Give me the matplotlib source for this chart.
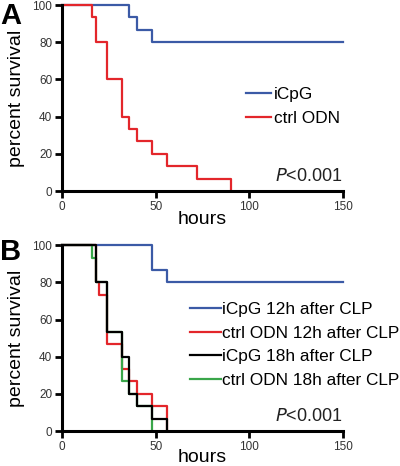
import matplotlib
matplotlib.use("Agg")
import matplotlib.pyplot as plt

plt.rcParams['font.family'] = ['Liberation Sans', 'DejaVu Sans']

# Panel A data (hours, percent survival)
a_icpg_t = [0, 36, 40, 48, 150]
a_icpg_s = [100, 93.3, 86.7, 80, 80]
a_ctrl_t = [0, 16, 18, 24, 32, 36, 40, 48, 56, 72, 90]
a_ctrl_s = [100, 93.3, 80, 60, 40, 33.3, 26.7, 20, 13.3, 6.7, 0]

# Panel B data
b_icpg12_t = [0, 48, 56, 150]
b_icpg12_s = [100, 86.7, 80, 80]
b_ctrl12_t = [0, 18, 20, 24, 32, 36, 40, 48, 56]
b_ctrl12_s = [100, 80, 73.3, 46.7, 33.3, 26.7, 20, 13.3, 0]
b_icpg18_t = [0, 18, 24, 32, 36, 40, 48, 56]
b_icpg18_s = [100, 80, 53.3, 40, 20, 13.3, 6.7, 0]
b_ctrl18_t = [0, 16, 18, 24, 32, 36, 40, 48]
b_ctrl18_s = [100, 93.3, 80, 53.3, 26.7, 20, 13.3, 0]

labels_a = ["iCpG", "ctrl ODN"]
labels_b = ["iCpG 12h after CLP", "ctrl ODN 12h after CLP",
            "iCpG 18h after CLP", "ctrl ODN 18h after CLP"]
x_ticks = [0, 50, 100, 150]
y_ticks = [0, 20, 40, 60, 80, 100]

BLUE = '#3b5aa6'
RED = '#e3262b'
GREEN = '#3aa64a'
BLACK = '#000000'

fig = plt.figure(figsize=(4.0, 4.66), dpi=100)
axA = fig.add_axes([0.155, 0.5901, 0.7025, 0.3991])
axB = fig.add_axes([0.155, 0.0751, 0.7025, 0.3985])

LW = 1.6

def style(ax, xlabelpad):
    ax.set_xlim(0, 150)
    ax.set_ylim(0, 100)
    ax.set_xticks(x_ticks)
    ax.set_yticks(y_ticks)
    for s in ['top', 'right']:
        ax.spines[s].set_visible(False)
    for s in ['left', 'bottom']:
        ax.spines[s].set_linewidth(2.2)
        ax.spines[s].set_zorder(5)
    ax.tick_params(direction='out', length=5, width=2, labelsize=8.5,
                   labelcolor='#333333', pad=2)
    ax.set_xlabel('hours', fontsize=14, labelpad=xlabelpad)
    ax.set_ylabel('percent survival', fontsize=14, labelpad=5)
    ax.text(1.0, 0.03, r'$\it{P}$<0.001', transform=ax.transAxes,
            ha='right', va='bottom', fontsize=13, color='#222222')

# Panel A
axA.step(a_icpg_t, a_icpg_s, where='post', color=BLUE, lw=LW, label=labels_a[0], clip_on=False)
axA.step(a_ctrl_t, a_ctrl_s, where='post', color=RED, lw=LW, label=labels_a[1], clip_on=False)
style(axA, -1)
axA.legend(loc='upper left', bbox_to_anchor=(0.655, 0.56), frameon=False,
           fontsize=12.4, handlelength=1.45, handletextpad=0.15,
           labelspacing=0.55, borderpad=0, borderaxespad=0)

# Panel B
axB.step(b_icpg12_t, b_icpg12_s, where='post', color=BLUE, lw=LW, label=labels_b[0], clip_on=False, zorder=2)
axB.step(b_ctrl12_t, b_ctrl12_s, where='post', color=RED, lw=LW, label=labels_b[1], clip_on=False, zorder=3)
axB.step(b_icpg18_t, b_icpg18_s, where='post', color=BLACK, lw=LW, label=labels_b[2], clip_on=False, zorder=4.5)
axB.step(b_ctrl18_t, b_ctrl18_s, where='post', color=GREEN, lw=LW, label=labels_b[3], clip_on=False, zorder=3.5)
style(axB, -3)
axB.legend(loc='upper left', bbox_to_anchor=(0.457, 0.695), frameon=False,
           fontsize=12.4, handlelength=1.75, handletextpad=0.1,
           labelspacing=0.5, borderpad=0, borderaxespad=0)

fig.text(0.0, 1.0 - 2/466, 'A', fontsize=21, fontweight='bold', ha='left', va='top')
fig.text(0.0, 1.0 - 238/466, 'B', fontsize=21, fontweight='bold', ha='left', va='top')

fig.savefig('out.png', dpi=100)
